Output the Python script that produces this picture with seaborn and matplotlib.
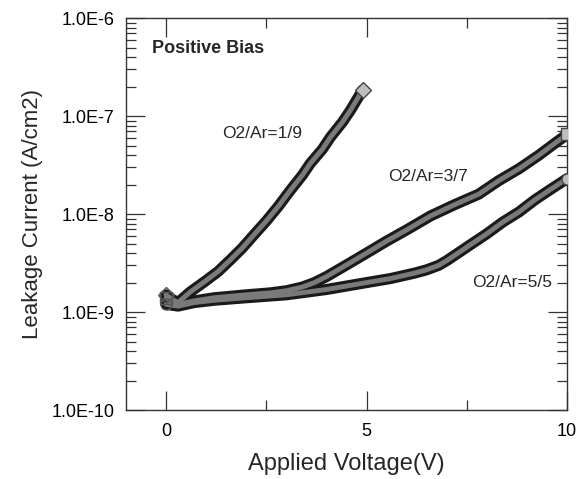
import numpy as np
import pandas as pd
import matplotlib
matplotlib.use('Agg')
import matplotlib.pyplot as plt
import matplotlib.ticker as mticker
import seaborn as sns

# ── data (V, A/cm2) ────────────────────────────────────────────
v_19 = [0, 0.15, 0.3, 0.6, 1.0, 1.3, 1.6, 1.9, 2.2, 2.5, 2.8, 3.1, 3.4, 3.6, 3.9, 4.1, 4.4, 4.6, 4.9]
j_19 = [1.5e-9, 1.35e-9, 1.25e-9, 1.6e-9, 2.1e-9, 2.6e-9, 3.4e-9, 4.5e-9, 6.2e-9, 8.5e-9,
        1.2e-8, 1.75e-8, 2.5e-8, 3.3e-8, 4.6e-8, 6.1e-8, 8.7e-8, 1.15e-7, 1.84e-7]

v_37 = [0, 0.3, 0.7, 1.2, 2, 2.6, 3.0, 3.4, 3.7, 4, 4.6, 5.0, 5.5, 6.0, 6.6, 7.2, 7.8, 8.3, 8.8, 9.3, 9.7, 10]
j_37 = [1.4e-9, 1.2e-9, 1.3e-9, 1.4e-9, 1.5e-9, 1.57e-9, 1.65e-9, 1.8e-9, 2.0e-9, 2.3e-9,
        3.2e-9, 4.0e-9, 5.3e-9, 6.9e-9, 9.6e-9, 1.25e-8, 1.6e-8, 2.2e-8, 2.9e-8, 4.0e-8,
        5.3e-8, 6.5e-8]

v_55 = [0, 0.3, 0.7, 1.2, 2, 3, 4, 5, 5.6, 6.2, 6.5, 6.8, 7.0, 7.2, 7.6, 8.0, 8.4, 8.8, 9.2, 9.6, 10]
j_55 = [1.2e-9, 1.15e-9, 1.25e-9, 1.32e-9, 1.4e-9, 1.5e-9, 1.7e-9, 2.0e-9, 2.2e-9, 2.5e-9,
        2.7e-9, 3.0e-9, 3.35e-9, 3.8e-9, 4.9e-9, 6.3e-9, 8.3e-9, 1.05e-8, 1.4e-8, 1.8e-8, 2.3e-8]

labels = ['O2/Ar=1/9', 'O2/Ar=3/7', 'O2/Ar=5/5']
markers = ['D', 's', 'o']

sns.set_style('ticks')
plt.rcParams['font.family'] = ['Liberation Sans', 'DejaVu Sans']

fig = plt.figure(figsize=(5.83, 4.79), dpi=100)
ax = fig.add_axes([0.216, 0.144, 0.7566, 0.818])

series = [(v_19, j_19), (v_37, j_37), (v_55, j_55)]
for (v, j), lab, m in zip(series, labels, markers):
    df = pd.DataFrame({'V': v, 'J': j})
    # dense marker band -> thick dark line with lighter core
    sns.lineplot(data=df, x='V', y='J', ax=ax, sort=False, color='#1a1a1a', linewidth=8,
                 solid_capstyle='round', solid_joinstyle='round', zorder=2)
    sns.lineplot(data=df, x='V', y='J', ax=ax, sort=False, color='#7a7a7a', linewidth=3.5,
                 solid_joinstyle='round', zorder=3)
    ax.plot(v[-1], j[-1], marker=m, markersize=8, markerfacecolor='#bdbdbd',
            markeredgecolor='#444444', markeredgewidth=1, linestyle='none', zorder=4)
    ax.plot(v[0], j[0], marker=m, markersize=8, markerfacecolor='none',
            markeredgecolor='#555555', markeredgewidth=1, linestyle='none', zorder=4)

ax.set_yscale('log')
ax.set_xlim(-1, 10)
ax.set_ylim(1e-10, 1e-6)

ax.xaxis.set_major_locator(mticker.FixedLocator([0, 5, 10]))
ax.xaxis.set_minor_locator(mticker.FixedLocator([2.5, 7.5]))
ax.yaxis.set_major_locator(mticker.LogLocator(base=10, numticks=10))
ax.yaxis.set_minor_locator(mticker.LogLocator(base=10, subs=np.arange(2, 10), numticks=20))
ax.yaxis.set_minor_formatter(mticker.NullFormatter())
ax.yaxis.set_major_formatter(mticker.FuncFormatter(lambda y, _: f'1.0E{int(round(np.log10(y)))}'))

ax.tick_params(axis='both', which='both', direction='in', top=True, right=True,
               colors='#333333', labelcolor='black', labelsize=13)
ax.tick_params(axis='both', which='major', length=14, width=0.9)
ax.tick_params(axis='both', which='minor', length=7, width=0.9)
ax.tick_params(axis='x', which='major', pad=9)
ax.tick_params(axis='y', which='major', pad=8)

for s in ax.spines.values():
    s.set_color('#333333')
    s.set_linewidth(1.0)

ax.set_xlabel('Applied Voltage(V)', fontsize=17, labelpad=10)
ax.set_ylabel('Leakage Current (A/cm2)', fontsize=16, labelpad=6)

ax.text(-0.35, 4.9e-7, 'Positive Bias', fontsize=13, fontweight='bold', va='center')
ax.text(1.4, 6.6e-8, labels[0], fontsize=12.5, va='center')
ax.text(5.54, 2.4e-8, labels[1], fontsize=12.5, va='center')
ax.text(7.63, 2.0e-9, labels[2], fontsize=12.5, va='center')

fig.savefig('out.png', dpi=100)
